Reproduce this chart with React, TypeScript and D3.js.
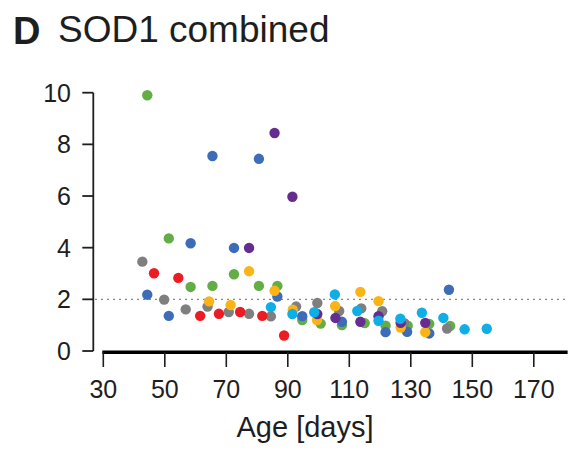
import React from "react";
import * as d3 from "d3";

const xTicks = [30, 50, 70, 90, 110, 130, 150, 170];
const yTicks = [0, 2, 4, 6, 8, 10];
const threshold = 2;

const green: [number, number][] = [[44.3, 9.9], [51.3, 4.36], [58.4, 2.48], [65.5, 2.52], [72.5, 2.97], [80.6, 2.52], [86.6, 2.52], [94.7, 1.2], [100.7, 1.06], [107.6, 1.0], [115, 1.08], [121.8, 0.98], [129, 0.98], [136, 1.05], [142.8, 0.97]];
const gray: [number, number][] = [[42.7, 3.46], [49.8, 1.99], [56.8, 1.61], [63.9, 1.72], [70.8, 1.51], [77.4, 1.44], [84.5, 1.34], [92.7, 1.72], [99.6, 1.86], [106.7, 1.55], [113.9, 1.65], [120.7, 1.54], [127.9, 1.08], [141.8, 0.87]];
const red: [number, number][] = [[46.5, 3.01], [54.4, 2.83], [61.5, 1.36], [67.6, 1.44], [74.5, 1.51], [81.7, 1.36], [88.8, 0.6]];
const blue: [number, number][] = [[44.3, 2.18], [51.3, 1.36], [58.4, 4.17], [65.5, 7.55], [72.5, 3.99], [80.6, 7.44], [86.6, 2.11], [94.7, 1.35], [107.6, 1.13], [121.8, 0.73], [128.8, 0.74], [136, 0.68], [142.4, 2.37]];
const yellow: [number, number][] = [[64.4, 1.92], [71.4, 1.78], [77.4, 3.09], [85.7, 2.33], [91.6, 1.6], [99.5, 1.2], [105.4, 1.74], [113.6, 2.29], [119.5, 1.93], [126.7, 0.91], [134.7, 0.73]];
const purple: [number, number][] = [[77.4, 3.99], [85.7, 8.44], [91.5, 5.97], [99.6, 1.43], [105.5, 1.28], [113.6, 1.13], [119.5, 1.35], [126.7, 1.09], [134.7, 1.09]];
const cyan: [number, number][] = [[84.5, 1.7], [91.5, 1.43], [98.6, 1.5], [105.3, 2.19], [112.6, 1.55], [119.5, 1.17], [126.6, 1.25], [133.6, 1.48], [140.6, 1.28], [147.5, 0.84], [154.7, 0.86]];

const seriesList: { color: string; data: [number, number][] }[] = [
  { color: "#63ad46", data: green },
  { color: "#7f7f7f", data: gray },
  { color: "#ed1c24", data: red },
  { color: "#3d6cb9", data: blue },
  { color: "#fbb416", data: yellow },
  { color: "#662d91", data: purple },
  { color: "#10aee6", data: cyan },
];

const FONT = "'Liberation Sans', Arial, Helvetica, sans-serif";

export default function App() {
  const x = d3.scaleLinear().domain([30, 170]).range([103.3, 533.8]);
  const y = d3.scaleLinear().domain([0, 10]).range([351, 92.7]);
  const xEnd = x(181);
  const yAxisX = 93.3;
  const xAxisY = 352.3;
  const ink = "#1e1e1e";

  return (
    <svg
      width={569}
      height={449}
      style={{ position: "absolute", left: 0, top: 0, background: "#fff" }}
      fontFamily={FONT}
    >
      <rect width={569} height={449} fill="#fff" />
      <text x={13} y={43.5} fontSize={38} fontWeight="bold" fill={ink}>D</text>
      <text x={58} y={42} fontSize={37} fill={ink}>SOD1 combined</text>

      {/* threshold dotted line */}
      <line
        x1={yAxisX + 2}
        x2={xEnd}
        y1={y(threshold)}
        y2={y(threshold)}
        stroke="#555"
        strokeWidth={1.4}
        strokeDasharray="1.4,4.6"
      />

      {/* y axis */}
      <line x1={yAxisX} x2={yAxisX} y1={y(10)} y2={y(0)} stroke={ink} strokeWidth={1.8} />
      {yTicks.map((t) => (
        <g key={"y" + t}>
          <line x1={yAxisX - 11} x2={yAxisX} y1={y(t)} y2={y(t)} stroke={ink} strokeWidth={1.8} />
          <text x={71} y={y(t)} dy="0.36em" textAnchor="end" fontSize={25} fill={ink}>{t}</text>
        </g>
      ))}

      {/* x axis */}
      <line x1={x(30) - 1} x2={xEnd} y1={xAxisY} y2={xAxisY} stroke="#000" strokeWidth={3.6} />
      {xTicks.map((t) => (
        <g key={"x" + t}>
          <line x1={x(t)} x2={x(t)} y1={xAxisY} y2={367} stroke={ink} strokeWidth={1.6} />
          <text x={x(t)} y={398} textAnchor="middle" fontSize={25} fill={ink}>{t}</text>
        </g>
      ))}
      <text x={305} y={437} textAnchor="middle" fontSize={29} fill={ink}>Age [days]</text>

      {seriesList.map((s, i) => (
        <g key={i}>
          {s.data.map((d, j) => (
            <circle key={j} cx={x(d[0])} cy={y(d[1])} r={5.2} fill={s.color} />
          ))}
        </g>
      ))}
    </svg>
  );
}
